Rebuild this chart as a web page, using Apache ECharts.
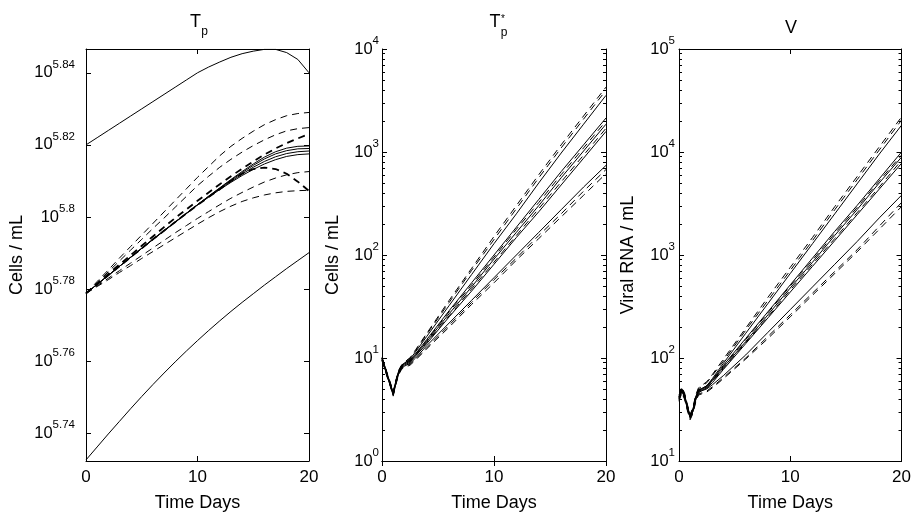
<!DOCTYPE html>
<html><head><meta charset="utf-8">
<script src="https://cdn.jsdelivr.net/npm/echarts@6/dist/echarts.min.js"></script>
<style>html,body{margin:0;padding:0;background:#fff}#c{width:914px;height:517px}</style>
</head><body><div id="c"></div>
<script>
// ---------- data (y values are log10 of the quantity) ----------
const tA = [0,1,2,3,4,5,6,7,8,9,10,11,12,13,14,15,16,17,18,19,20];
const tB = [0,0.25,0.5,0.75,1,1.25,1.5,1.75,2,2.5,3,4,6,8,10,12,14,16,18,20];

// Panel 1: Tp
const tpHi = [5.8200,5.8220,5.8240,5.8260,5.8280,5.8300,5.8320,5.8340,5.8360,5.8380,5.8400,5.8416,5.8430,5.8443,5.8453,5.8460,5.8465,5.8465,5.8456,5.8437,5.8400];
const tpLo = [5.7326,5.7362,5.7398,5.7433,5.7468,5.7502,5.7535,5.7567,5.7598,5.7628,5.7657,5.7685,5.7712,5.7738,5.7763,5.7787,5.7811,5.7834,5.7857,5.7879,5.7901];
const tpB1 = [5.7788,5.7813,5.7838,5.7863,5.7888,5.7913,5.7938,5.7962,5.7986,5.8010,5.8034,5.8058,5.8081,5.8104,5.8126,5.8147,5.8166,5.8181,5.8191,5.8196,5.8197];
const tpB2 = [5.7788,5.7813,5.7838,5.7863,5.7888,5.7913,5.7938,5.7962,5.7986,5.8010,5.8034,5.8057,5.8080,5.8102,5.8123,5.8143,5.8161,5.8175,5.8184,5.8189,5.8190];
const tpB3 = [5.7788,5.7813,5.7838,5.7863,5.7888,5.7913,5.7938,5.7962,5.7986,5.8010,5.8034,5.8056,5.8078,5.8099,5.8119,5.8138,5.8154,5.8167,5.8176,5.8181,5.8183];
const tpB4 = [5.7788,5.7813,5.7838,5.7863,5.7888,5.7913,5.7937,5.7961,5.7985,5.8009,5.8033,5.8055,5.8076,5.8096,5.8115,5.8132,5.8147,5.8159,5.8168,5.8173,5.8175];
const tpD1 = [5.7788,5.7821,5.7853,5.7886,5.7918,5.7950,5.7982,5.8014,5.8046,5.8078,5.8110,5.8140,5.8170,5.8196,5.8218,5.8238,5.8256,5.8270,5.8281,5.8287,5.8290];
const tpD2 = [5.7788,5.7818,5.7848,5.7878,5.7908,5.7938,5.7968,5.7997,5.8027,5.8057,5.8087,5.8113,5.8138,5.8160,5.8180,5.8198,5.8214,5.8228,5.8239,5.8245,5.8248];
const tpD3 = [5.7788,5.7815,5.7842,5.7868,5.7894,5.7920,5.7946,5.7972,5.7997,5.8021,5.8045,5.8068,5.8091,5.8113,5.8134,5.8154,5.8173,5.8190,5.8205,5.8218,5.8230];
const tpD4 = [5.7788,5.7813,5.7838,5.7863,5.7888,5.7913,5.7938,5.7962,5.7986,5.8010,5.8033,5.8055,5.8077,5.8100,5.8120,5.8133,5.8137,5.8133,5.8120,5.8098,5.8072];
const tpD5 = [5.7788,5.7809,5.7830,5.7851,5.7872,5.7893,5.7914,5.7935,5.7956,5.7976,5.7996,5.8015,5.8034,5.8052,5.8068,5.8083,5.8097,5.8108,5.8117,5.8123,5.8126];
const tpD6 = [5.7788,5.7807,5.7826,5.7846,5.7865,5.7885,5.7904,5.7923,5.7942,5.7961,5.7980,5.7998,5.8015,5.8030,5.8043,5.8053,5.8061,5.8067,5.8071,5.8073,5.8074];

// Panel 2: Tp*
const tsS1 = [1.00,0.92,0.83,0.75,0.66,0.78,0.87,0.92,0.95,0.99,1.06,1.21,1.51,1.81,2.11,2.40,2.70,2.99,3.27,3.55];
const tsD1 = [1.01,0.93,0.84,0.76,0.67,0.79,0.88,0.93,0.96,1.00,1.08,1.24,1.56,1.87,2.18,2.48,2.78,3.07,3.35,3.63];
const tsD2 = [1.00,0.92,0.83,0.75,0.66,0.78,0.88,0.93,0.96,1.00,1.07,1.23,1.54,1.85,2.15,2.45,2.75,3.04,3.32,3.60];
const tsS2 = [1.00,0.92,0.83,0.75,0.66,0.78,0.88,0.93,0.95,0.98,1.04,1.18,1.46,1.73,2.00,2.27,2.54,2.81,3.07,3.33];
const tsS3 = [0.99,0.91,0.82,0.74,0.65,0.77,0.87,0.92,0.94,0.97,1.03,1.16,1.43,1.69,1.96,2.22,2.48,2.75,3.01,3.27];
const tsS4 = [0.98,0.90,0.81,0.73,0.64,0.76,0.86,0.91,0.93,0.96,1.02,1.14,1.40,1.65,1.91,2.17,2.42,2.68,2.94,3.20];
const tsD3 = [1.00,0.92,0.83,0.75,0.66,0.78,0.87,0.92,0.95,0.98,1.04,1.17,1.45,1.71,1.98,2.25,2.51,2.78,3.04,3.30];
const tsD4 = [0.99,0.91,0.82,0.74,0.65,0.77,0.86,0.91,0.94,0.97,1.02,1.15,1.41,1.67,1.93,2.19,2.45,2.71,2.97,3.23];
const tsS5 = [0.98,0.90,0.81,0.73,0.64,0.76,0.85,0.90,0.92,0.95,1.00,1.12,1.34,1.56,1.78,2.00,2.22,2.44,2.66,2.87];
const tsD5 = [0.98,0.90,0.81,0.73,0.64,0.75,0.85,0.90,0.92,0.94,0.99,1.10,1.32,1.54,1.76,1.97,2.19,2.40,2.62,2.83];
const tsD6 = [0.97,0.89,0.80,0.72,0.63,0.75,0.84,0.89,0.91,0.93,0.98,1.09,1.30,1.52,1.73,1.95,2.16,2.37,2.58,2.79];

// Panel 3: V
const vS1 = [1.62,1.70,1.64,1.53,1.44,1.50,1.62,1.69,1.70,1.73,1.80,1.95,2.24,2.53,2.82,3.11,3.40,3.69,3.98,4.26];
const vD1 = [1.64,1.72,1.66,1.55,1.45,1.52,1.64,1.71,1.73,1.77,1.84,1.99,2.29,2.59,2.88,3.17,3.47,3.76,4.05,4.34];
const vD2 = [1.63,1.71,1.65,1.54,1.45,1.51,1.63,1.70,1.72,1.76,1.83,1.97,2.27,2.56,2.85,3.14,3.44,3.73,4.02,4.31];
const vS2 = [1.62,1.70,1.64,1.53,1.44,1.50,1.62,1.69,1.70,1.73,1.79,1.93,2.19,2.45,2.71,2.97,3.23,3.48,3.74,4.00];
const vS3 = [1.61,1.69,1.63,1.52,1.43,1.49,1.61,1.68,1.69,1.72,1.78,1.91,2.16,2.42,2.68,2.93,3.19,3.44,3.70,3.95];
const vS4 = [1.60,1.68,1.62,1.51,1.42,1.48,1.60,1.67,1.68,1.71,1.76,1.89,2.14,2.39,2.64,2.89,3.14,3.39,3.64,3.89];
const vD3 = [1.62,1.70,1.64,1.53,1.44,1.50,1.62,1.69,1.70,1.73,1.78,1.92,2.18,2.44,2.70,2.95,3.21,3.46,3.72,3.97];
const vD4 = [1.61,1.69,1.63,1.52,1.43,1.49,1.61,1.68,1.69,1.71,1.77,1.90,2.15,2.40,2.66,2.91,3.16,3.41,3.66,3.92];
const vS5 = [1.60,1.68,1.62,1.51,1.42,1.48,1.59,1.66,1.68,1.70,1.74,1.83,2.03,2.25,2.47,2.69,2.91,3.13,3.36,3.58];
const vD5 = [1.59,1.67,1.61,1.50,1.41,1.47,1.58,1.65,1.66,1.68,1.72,1.81,2.00,2.21,2.42,2.63,2.84,3.05,3.28,3.51];
const vD6 = [1.58,1.66,1.60,1.49,1.40,1.46,1.57,1.64,1.65,1.67,1.71,1.80,1.99,2.19,2.40,2.61,2.82,3.03,3.25,3.47];

// tick labels
const xTicks = [0, 10, 20];
const tpTicks = [5.74, 5.76, 5.78, 5.80, 5.82, 5.84];
const tsTicks = [0, 1, 2, 3, 4];
const vTicks = [1, 2, 3, 4, 5];
const minorMult = [2, 3, 4, 5, 6, 7, 8, 9];

// ---------- chart ----------
const FONT = '"Liberation Sans", Arial, sans-serif';
const BLACK = '#000';
function minors(decades) {
  const out = [];
  decades.forEach(n => minorMult.forEach(k => out.push(n + Math.log10(k))));
  return out;
}
const panels = [
  { left: 86, width: 223, yMin: 5.7323, yMax: 5.8466, major: tpTicks, minor: [], margin: 11,
    yName: 'Cells / mL', nameGap: 60, x: tA,
    lines: [[tpHi,0,1],[tpLo,0,1],[tpB1,0,1],[tpB2,0,1],[tpB3,0,1],[tpB4,0,1],
            [tpD1,1,1],[tpD2,1,1],[tpD3,1,1.8],[tpD4,1,1.8],[tpD5,1,1],[tpD6,1,1]] },
  { left: 382, width: 224, yMin: 0, yMax: 4, major: tsTicks, minor: minors([0,1,2,3]), margin: 3,
    yName: 'Cells / mL', nameGap: 40, x: tB,
    lines: [[tsS1,0,1],[tsD1,1,1],[tsD2,1,1],[tsS2,0,1],[tsS3,0,1],[tsS4,0,1],[tsD3,1,1],[tsD4,1,1],
            [tsS5,0,1],[tsD5,1,1],[tsD6,1,1]] },
  { left: 679, width: 224, yMin: 1, yMax: 5, major: vTicks, minor: minors([1,2,3,4]), margin: 4,
    yName: 'Viral RNA / mL', nameGap: 42, x: tB,
    lines: [[vS1,0,1],[vD1,1,1],[vD2,1,1],[vS2,0,1],[vS3,0,1],[vS4,0,1],[vD3,1,1],[vD4,1,1],
            [vS5,0,1],[vD5,1,1],[vD6,1,1]] }
];
const TOP = 49, HEIGHT = 417;
const grid = [], xAxis = [], yAxis = [], series = [];
const rich = {
  b: { fontSize: 16.5, lineHeight: 28, fontFamily: FONT, color: BLACK },
  s: { fontSize: 11.5, lineHeight: 11, verticalAlign: 'top', fontFamily: FONT, color: BLACK }
};
function fmt(v) { return '{b|10}{s|' + (+v.toFixed(2)) + '}'; }

panels.forEach((p, g) => {
  grid.push({ left: p.left, top: TOP, width: p.width, height: HEIGHT, containLabel: false });
  const xb = xAxis.length;
  xAxis.push({
    type: 'value', gridIndex: g, min: 0, max: 20, interval: 10, position: 'bottom',
    axisLine: { show: true, lineStyle: { color: BLACK, width: 1 } },
    axisTick: { show: true, inside: true, length: 5, customValues: xTicks, lineStyle: { color: BLACK } },
    axisLabel: { show: true, customValues: xTicks, margin: 8, color: BLACK, fontSize: 17, fontFamily: FONT },
    splitLine: { show: false },
    name: 'Time Days', nameLocation: 'middle', nameGap: 33,
    nameTextStyle: { color: BLACK, fontSize: 18, fontFamily: FONT }
  });
  xAxis.push({
    type: 'value', gridIndex: g, min: 0, max: 20, interval: 10, position: 'top',
    axisLine: { show: true, lineStyle: { color: BLACK, width: 1 } },
    axisTick: { show: true, inside: true, length: 5, lineStyle: { color: BLACK } },
    axisLabel: { show: false }, splitLine: { show: false }
  });
  const yl = yAxis.length;
  ['left', 'right'].forEach(pos => {
    yAxis.push({
      type: 'value', gridIndex: g, min: p.yMin, max: p.yMax, position: pos,
      axisLine: { show: true, onZero: false, lineStyle: { color: BLACK, width: 1 } },
      axisTick: { show: true, inside: true, length: 5, customValues: p.major, lineStyle: { color: BLACK } },
      axisLabel: pos === 'left'
        ? { show: true, customValues: p.major, margin: p.margin, formatter: fmt, rich: rich }
        : { show: false },
      splitLine: { show: false },
      name: pos === 'left' ? p.yName : '', nameLocation: 'middle', nameGap: p.nameGap,
      nameTextStyle: { color: BLACK, fontSize: 18, fontFamily: FONT }
    });
    if (p.minor.length) {
      yAxis.push({
        type: 'value', gridIndex: g, min: p.yMin, max: p.yMax, position: pos,
        axisLine: { show: false, onZero: false },
        axisTick: { show: true, inside: true, length: 3, customValues: p.minor, lineStyle: { color: BLACK } },
        axisLabel: { show: false }, splitLine: { show: false }
      });
    }
  });
  p.lines.forEach(([ys, dashed, w]) => {
    series.push({
      type: 'line', xAxisIndex: xb, yAxisIndex: yl, silent: true, symbol: 'none',
      data: p.x.map((t, i) => [t, ys[i]]),
      lineStyle: { color: BLACK, width: w, type: dashed ? [7, 5] : 'solid' },
      z: dashed ? 3 : 2
    });
  });
});

const titleStyle = { fill: BLACK, fontFamily: FONT, align: 'center', verticalAlign: 'middle' };
const graphic = [
  { type: 'text', x: 195.5, y: 22, style: Object.assign({ text: 'T', fontSize: 18 }, titleStyle) },
  { type: 'text', x: 204.5, y: 32, style: Object.assign({ text: 'p', fontSize: 12 }, titleStyle) },
  { type: 'text', x: 495, y: 22, style: Object.assign({ text: 'T', fontSize: 18 }, titleStyle) },
  { type: 'text', x: 503, y: 19, style: Object.assign({ text: '*', fontSize: 10 }, titleStyle) },
  { type: 'text', x: 504, y: 33, style: Object.assign({ text: 'p', fontSize: 12 }, titleStyle) },
  { type: 'text', x: 791, y: 28.5, style: Object.assign({ text: 'V', fontSize: 18 }, titleStyle) }
];

const chart = echarts.init(document.getElementById('c'), null, { renderer: 'canvas' });
chart.setOption({
  animation: false, backgroundColor: '#fff',
  grid, xAxis, yAxis, series, graphic
});
</script></body></html>
